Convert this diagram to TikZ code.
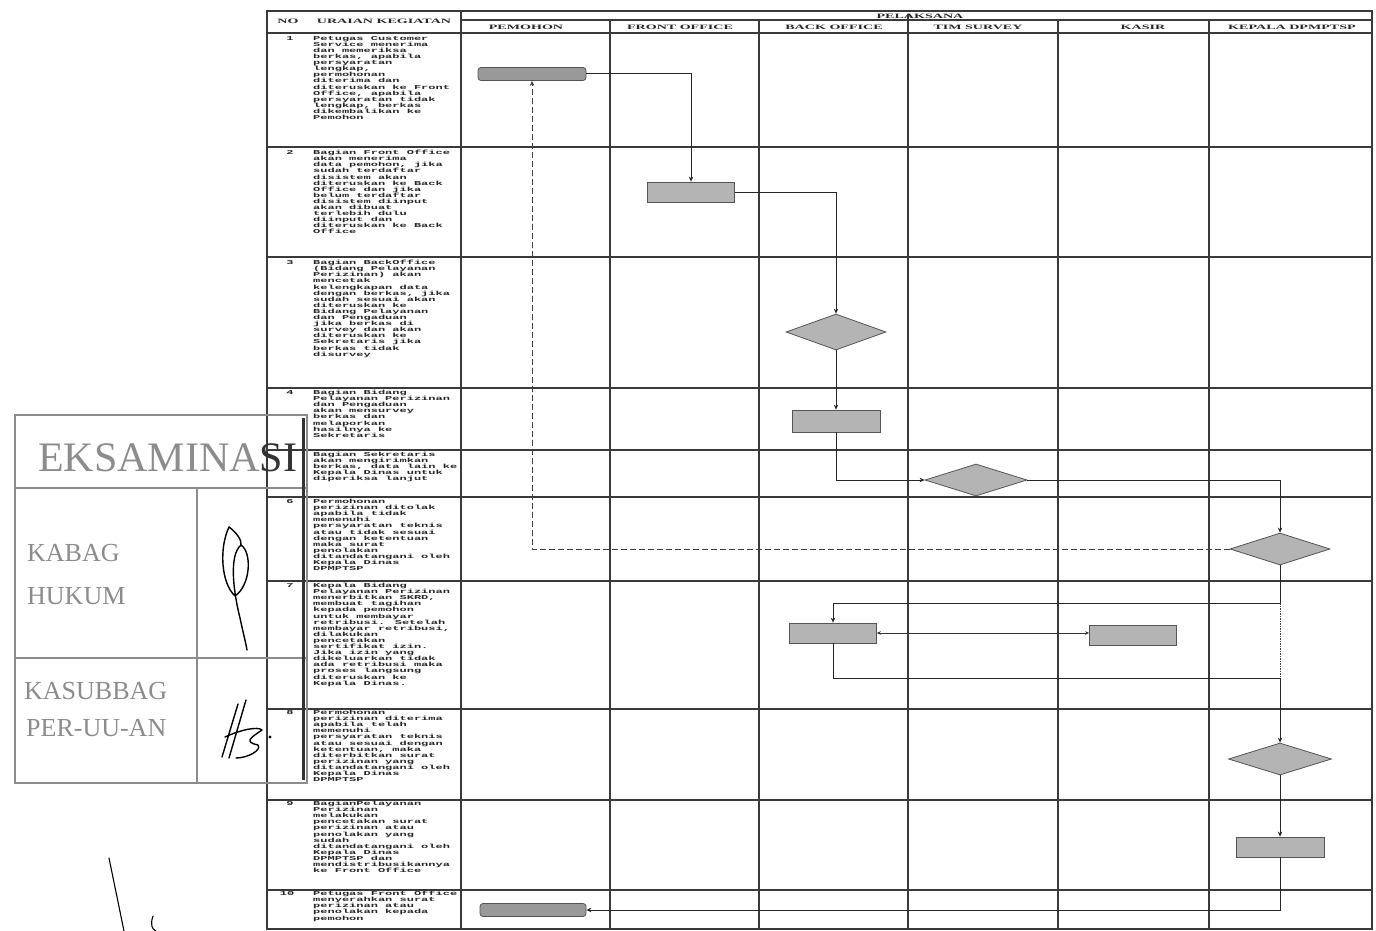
\documentclass[tikz,border=0pt]{standalone}
\usepackage{fontspec}
\usetikzlibrary{shapes.geometric,arrows.meta}
\newfontfamily\rowfont[FakeStretch=2.0]{Liberation Mono}
\newfontfamily\headfont[FakeStretch=2.1]{Liberation Serif}
\newfontfamily\stampfont{Liberation Serif}
\definecolor{shapefill}{HTML}{B4B4B4}
\definecolor{shapeedge}{HTML}{555555}
\definecolor{gridline}{HTML}{3A3A3A}
\definecolor{stampgray}{HTML}{8C8C8C}
\begin{document}
\begin{tikzpicture}[x=1pt,y=-1pt,
  grid/.style={draw=gridline,line width=1.1pt},
  proc/.style={rectangle,draw=shapeedge,fill=shapefill,line width=0.8pt,inner sep=0pt},
  term/.style={rectangle,rounded corners=3pt,draw=shapeedge,fill=shapefill!85!black,line width=0.8pt,inner sep=0pt,minimum width=108pt,minimum height=13pt},
  dia/.style={diamond,draw=shapeedge,fill=shapefill,line width=0.8pt,inner sep=0pt,minimum width=100pt,minimum height=32pt},
  flow/.style={draw=black!85,line width=1pt,-{Stealth[length=5pt,width=4.5pt]}},
  plain/.style={draw=black!85,line width=1pt},
  back/.style={draw=black!75,line width=1pt,dash pattern=on 6pt off 3pt,-{Stealth[length=5pt,width=4.5pt]}},
  rowtxt/.style={anchor=north west,inner sep=0pt,align=left,text=black!85,font=\rowfont\bfseries\fontsize{6}{6.1}\selectfont},
  rownum/.style={anchor=north,inner sep=0pt,text=black!85,font=\rowfont\bfseries\fontsize{6}{6.1}\selectfont},
  hd/.style={inner sep=0pt,text=black!85,font=\headfont\bfseries\fontsize{6.7}{7.2}\selectfont},
  stamptxt/.style={inner sep=0pt,text=stampgray,font=\stampfont\fontsize{26}{28}\selectfont},
  ink/.style={draw=black,line width=1.4pt,line cap=round,line join=round}]

\useasboundingbox (0,0) rectangle (1376,931);
\fill[white] (0,0) rectangle (1376,931);

% ---------- table grid ----------
\draw[grid] (267,11) rectangle (1372,929);
\draw[grid] (461,20) -- (1372,20);
\draw[grid] (267,33) -- (1372,33);
\foreach \y in {147,257,388,450,497,581,709,800,890}
  \draw[grid] (267,\y) -- (1372,\y);
\draw[grid] (461,11) -- (461,929);
\foreach \x in {610,759,1058,1209}
  \draw[grid] (\x,20) -- (\x,929);
\draw[grid] (908,14) -- (908,929);

% ---------- header ----------
\node[hd] (hno)  at (288,21) {NO};
\node[hd] (hura) at (384,21) {URAIAN KEGIATAN};
\node[hd] (hpel) at (920,16) {PELAKSANA};
\node[hd] (hc1) at (526,27) {PEMOHON};
\node[hd] (hc2) at (680,27) {FRONT OFFICE};
\node[hd] (hc3) at (834,27) {BACK OFFICE};
\node[hd] (hc4) at (978,27) {TIM SURVEY};
\node[hd] (hc5) at (1143,27) {KASIR};
\node[hd] (hc6) at (1292,27) {KEPALA DPMPTSP};

% ---------- activity descriptions ----------
\node[rownum] (n1) at (290,36) {1};
\node[rowtxt] (t1) at (313,36) {Petugas Customer\\Service menerima\\dan memeriksa\\berkas, apabila\\persyaratan\\lengkap,\\permohonan\\diterima dan\\diteruskan ke Front\\Office, apabila\\persyaratan tidak\\lengkap, berkas\\dikembalikan ke\\Pemohon};

\node[rownum] (n2) at (290,150) {2};
\node[rowtxt] (t2) at (313,150) {Bagian Front Office\\akan menerima\\data pemohon, jika\\sudah terdaftar\\disistem akan\\diteruskan ke Back\\Office dan jika\\belum terdaftar\\disistem diinput\\akan dibuat\\terlebih dulu\\diinput dan\\diteruskan ke Back\\Office};

\node[rownum] (n3) at (290,260) {3};
\node[rowtxt] (t3) at (313,260) {Bagian BackOffice\\(Bidang Pelayanan\\Perizinan) akan\\mencetak\\kelengkapan data\\dengan berkas, jika\\sudah sesuai akan\\diteruskan ke\\Bidang Pelayanan\\dan Pengaduan\\jika berkas di\\survey dan akan\\diteruskan ke\\Sekretaris jika\\berkas tidak\\disurvey};

\node[rownum] (n4) at (290,390) {4};
\node[rowtxt] (t4) at (313,390) {Bagian Bidang\\Pelayanan Perizinan\\dan Pengaduan\\akan mensurvey\\berkas dan\\melaporkan\\hasilnya ke\\Sekretaris};

\node[rowtxt] (t5) at (313,452) {Bagian Sekretaris\\akan mengirimkan\\berkas, data lain ke\\Kepala Dinas untuk\\diperiksa lanjut};

\node[rownum] (n6) at (290,499) {6};
\node[rowtxt] (t6) at (313,499) {Permohonan\\perizinan ditolak\\apabila tidak\\memenuhi\\persyaratan teknis\\atau tidak sesuai\\dengan ketentuan\\maka surat\\penolakan\\ditandatangani oleh\\Kepala Dinas\\DPMPTSP};

\node[rownum] (n7) at (290,583) {7};
\node[rowtxt] (t7) at (313,583) {Kepala Bidang\\Pelayanan Perizinan\\menerbitkan SKRD,\\membuat tagihan\\kepada pemohon\\untuk membayar\\retribusi. Setelah\\membayar retribusi,\\dilakukan\\pencetakan\\sertifikat izin.\\Jika izin yang\\dikeluarkan tidak\\ada retribusi maka\\proses langsung\\diteruskan ke\\Kepala Dinas.};

\node[rownum] (n8) at (290,710) {8};
\node[rowtxt] (t8) at (313,710) {Permohonan\\perizinan diterima\\apabila telah\\memenuhi\\persyaratan teknis\\atau sesuai dengan\\ketentuan, maka\\diterbitkan surat\\perizinan yang\\ditandatangani oleh\\Kepala Dinas\\DPMPTSP};

\node[rownum] (n9) at (290,801) {9};
\node[rowtxt] (t9) at (313,801) {BagianPelayanan\\Perizinan\\melakukan\\pencetakan surat\\perizinan atau\\penolakan yang\\sudah\\ditandatangani oleh\\Kepala Dinas\\DPMPTSP dan\\mendistribusikannya\\ke Front Office};

\node[rownum] (n10) at (287,891) {10};
\node[rowtxt] (t10) at (313,891) {Petugas Front Office\\menyerahkan surat\\perizinan atau\\penolakan kepada\\pemohon};

% ---------- flow shapes ----------
\node[term] (p1) at (532,74) {};
\node[proc,minimum width=87pt,minimum height=20pt] (fo) at (691,192) {};
\node[dia,minimum height=36pt] (d1) at (836,332) {};
\node[proc,minimum width=88pt,minimum height=22pt] (b4) at (836,421) {};
\node[dia,minimum width=102pt] (d2) at (976,480) {};
\node[dia] (d3) at (1280,549) {};
\node[proc,minimum width=87pt,minimum height=20pt] (b7) at (833,633) {};
\node[proc,minimum width=87pt,minimum height=20pt] (k7) at (1133,635) {};
\node[dia,minimum width=103pt] (d8) at (1280,759) {};
\node[proc,minimum width=88pt,minimum height=20pt] (b9) at (1280,847) {};
\node[term,minimum width=106pt] (p10) at (533,910) {};

\coordinate (j1) at (1280,603);
\coordinate (j2) at (1280,678);

% ---------- connectors ----------
\draw[flow] (p1.east) -| (fo.north);
\draw[flow] (fo.east) -| (d1.north);
\draw[flow] (d1.south) -- (b4.north);
\draw[flow] (b4.south) |- (d2.west);
\draw[flow] (d2.east) -| (d3.north);
\draw[back] (d3.west) -| (p1.south);
\draw[plain] (d3.south) -- (j1);
\draw[flow] (j1) -| (b7.north);
\draw[draw=black!75,line width=1pt,dash pattern=on 1.5pt off 1pt] (j1) -- (j2);
\draw[plain] (b7.south) |- (j2);
\draw[flow] (j2) -- (d8.north);
\draw[draw=black!80,line width=0.6pt,{Stealth[length=4pt,width=3.5pt]}-{Stealth[length=4pt,width=3.5pt]}] (b7.east) -- (k7.west |- b7.east);
\draw[flow] (d8.south) -- (b9.north);
\draw[flow] (b9.south) |- (p10.east);

% ---------- approval stamp ----------
\draw[draw=stampgray,line width=2.5pt] (15,415) rectangle (307,783);
\draw[draw=stampgray,line width=2.2pt] (15,488) -- (307,488);
\draw[draw=stampgray,line width=2.2pt] (15,658) -- (307,658);
\draw[draw=stampgray,line width=2.2pt] (197,488) -- (197,783);
\draw[draw=gray!40!black,line width=3pt] (303,418) -- (303,780);
\node[stamptxt,font=\stampfont\fontsize{42}{44}\selectfont,anchor=west] (sx) at (38,458) {EKSAMINA\textcolor{black!80}{SI}};
\node[stamptxt,anchor=west] (s1) at (27,553) {KABAG};
\node[stamptxt,anchor=west] (s2) at (27,596) {HUKUM};
\node[stamptxt,anchor=west] (s3) at (24,691) {KASUBBAG};
\node[stamptxt,anchor=west] (s4) at (26,728) {PER-UU-AN};

% ---------- signatures ----------
\draw[ink] (229,527) .. controls (219,548) and (221,583) .. (235,596)
  .. controls (251,585) and (252,552) .. (241,545)
  .. controls (229,555) and (233,590) .. (240,618)
  .. controls (243,632) and (246,644) .. (247,650);
\draw[ink] (229,527) .. controls (236,532) and (242,540) .. (241,545);
\draw[ink] (222,757) -- (238,704);
\draw[ink] (229,758) -- (246,700);
\draw[ink] (225,737) .. controls (240,730) and (258,726) .. (262,730)
  .. controls (250,738) and (244,742) .. (258,745)
  .. controls (262,750) and (248,758) .. (236,758);
\fill (270,737) circle (1.6pt);

% ---------- marks at the lower left ----------
\draw[ink,line width=1.1pt] (109,858) -- (124,931);
\draw[ink,line width=1.1pt] (153,916) .. controls (150,925) and (152,929) .. (156,931);
\end{tikzpicture}
\end{document}
